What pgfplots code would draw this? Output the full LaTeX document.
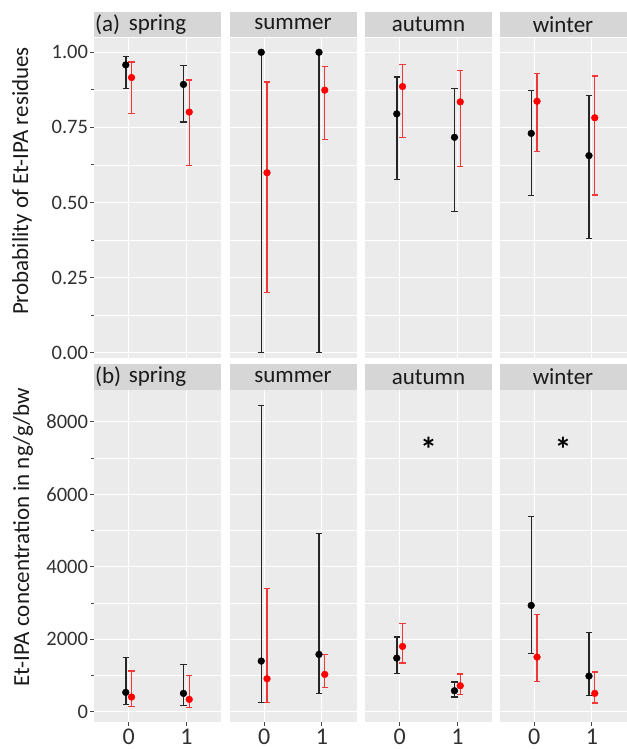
\documentclass[border=0pt]{standalone}
\usepackage{pgfplots}
\pgfplotsset{compat=1.18}
\usepackage{pgfplotstable}
\usepackage{fontspec}
\setmainfont{Carlito}

\definecolor{ggbg}{HTML}{EBEBEB}
\definecolor{ggstrip}{HTML}{D6D6D6}
\definecolor{ggtxt}{HTML}{1A1A1A}
\definecolor{redpt}{HTML}{FF0000}
\definecolor{redbar}{HTML}{F03838}

% probability of residues (a): x, black mean/low/high, red mean/low/high
\pgfplotstableread{
x by blo bhi ry rlo rhi
0 0.958 0.879 0.985 0.916 0.797 0.968
1 0.893 0.768 0.955 0.801 0.624 0.908
}\pspring
\pgfplotstableread{
x by blo bhi ry rlo rhi
0 1.000 0.000 1.000 0.599 0.200 0.901
1 1.000 0.000 1.000 0.874 0.710 0.953
}\psummer
\pgfplotstableread{
x by blo bhi ry rlo rhi
0 0.795 0.576 0.918 0.886 0.716 0.960
1 0.717 0.471 0.879 0.835 0.620 0.940
}\pautumn
\pgfplotstableread{
x by blo bhi ry rlo rhi
0 0.730 0.522 0.872 0.837 0.671 0.930
1 0.656 0.381 0.855 0.782 0.525 0.921
}\pwinter

% concentration (b)
\pgfplotstableread{
x by blo bhi ry rlo rhi
0 533 193 1499 405 147 1122
1 506 175 1297 340 120 1002
}\cspring
\pgfplotstableread{
x by blo bhi ry rlo rhi
0 1398 248 8441 910 248 3402
1 1582 506 4919 1030 671 1582
}\csummer
\pgfplotstableread{
x by blo bhi ry rlo rhi
0 1480 1057 2060 1802 1342 2427
1 579 405 818 717 478 1039
}\cautumn
\pgfplotstableread{
x by blo bhi ry rlo rhi
0 2933 1600 5388 1508 837 2694
1 984 441 2179 506 239 1094
}\cwinter

\pgfplotsset{
  panel/.style={
    scale only axis, width=127pt, anchor=south west,
    xmin=-0.6, xmax=1.6, xtick={0,1},
    axis background/.style={fill=ggbg},
    axis line style={draw=none},
    grid=both, minor y tick num=1,
    major grid style={white, line width=1.1pt},
    minor grid style={white, line width=0.5pt},
    tick align=outside, major tick length=4pt,
    tick style={ggtxt!80, line width=0.9pt},
    xtick pos=bottom, ytick pos=left,
    ticklabel style={font=\fontsize{20.5}{20.5}\selectfont, text=ggtxt!90},
    yticklabel style={xshift=1.5pt},
    clip=false,
  },
  toprow/.style={panel, height=320pt, ymin=-0.0176, ymax=1.0476,
    ytick={0,0.25,0.5,0.75,1}, yticklabels={0.00,0.25,0.50,0.75,1.00},
    xticklabels={}, x tick style={draw=none}},
  botrow/.style={panel, height=332pt, ymin=-284, ymax=8880,
    ytick={0,2000,4000,6000,8000}, yticklabels={0,2000,4000,6000,8000},
    xticklabels={0,1},
    xticklabel style={font=\fontsize{24}{24}\selectfont, anchor=base, yshift=-18pt}},
  othercol/.style={yticklabels={}, y tick style={draw=none}},
  blk/.style={only marks, mark=*, mark size=3.4pt, black,
    error bars/.cd, y dir=both, y explicit,
    error bar style={line width=1.5pt, black!85},
    error mark options={rotate=90, line width=1.2pt, mark size=3.2pt, black!85}},
  rd/.style={only marks, mark=*, mark size=3.4pt, redpt,
    error bars/.cd, y dir=both, y explicit,
    error bar style={line width=1.3pt, redbar},
    error mark options={rotate=90, line width=1.2pt, mark size=3.2pt, redbar}},
}

\newcommand\pairs[1]{%
  \addplot[blk] table[x expr=\thisrow{x}-0.05, y=by,
    y error plus expr=\thisrow{bhi}-\thisrow{by},
    y error minus expr=\thisrow{by}-\thisrow{blo}] {#1};
  \addplot[rd] table[x expr=\thisrow{x}+0.05, y=ry,
    y error plus expr=\thisrow{rhi}-\thisrow{ry},
    y error minus expr=\thisrow{ry}-\thisrow{rlo}] {#1};
}

\begin{document}
\begin{tikzpicture}
\useasboundingbox (0pt,0pt) rectangle (626pt,749pt);

% strips
\foreach \xl/\nm in {94/spring,229.5/summer,365/autumn,499.5/winter}{
  \fill[ggstrip] (\xl pt,712pt) rectangle ++(127pt,25pt);
  \node[font=\fontsize{23}{23}\selectfont, text=ggtxt] at (\xl pt+63.5pt,724.5pt) {\nm};
  \fill[ggstrip] (\xl pt,359pt) rectangle ++(127pt,26pt);
  \node[font=\fontsize{23}{23}\selectfont, text=ggtxt] at (\xl pt+63.5pt,372pt) {\nm};
}
\node[anchor=west, font=\fontsize{23}{23}\selectfont, text=ggtxt, inner sep=0pt] at (95pt,724.5pt) {(a)};
\node[anchor=west, font=\fontsize{23}{23}\selectfont, text=ggtxt, inner sep=0pt] at (95pt,372pt) {(b)};

% axis titles
\node[rotate=90, font=\fontsize{23}{23}\selectfont, text=ggtxt] at (22pt,568pt) {Probability of Et-IPA residues};
\node[rotate=90, font=\fontsize{23}{23}\selectfont, text=ggtxt] at (23pt,212pt) {Et-IPA concentration in ng/g/bw};

% row (a)
\begin{axis}[toprow, at={(94pt,391pt)}]
\pairs{\pspring}
\end{axis}
\begin{axis}[toprow, othercol, at={(229.5pt,391pt)}]
\pairs{\psummer}
\end{axis}
\begin{axis}[toprow, othercol, at={(365pt,391pt)}]
\pairs{\pautumn}
\end{axis}
\begin{axis}[toprow, othercol, at={(499.5pt,391pt)}]
\pairs{\pwinter}
\end{axis}

% row (b)
\begin{axis}[botrow, at={(94pt,27pt)}]
\pairs{\cspring}
\end{axis}
\begin{axis}[botrow, othercol, at={(229.5pt,27pt)}]
\pairs{\csummer}
\end{axis}
\begin{axis}[botrow, othercol, at={(365pt,27pt)}]
\pairs{\cautumn}
\node[font=\fontsize{34}{34}\selectfont\bfseries] at (axis cs:0.5,7250) {*};
\end{axis}
\begin{axis}[botrow, othercol, at={(499.5pt,27pt)}]
\pairs{\cwinter}
\node[font=\fontsize{34}{34}\selectfont\bfseries] at (axis cs:0.5,7250) {*};
\end{axis}
\end{tikzpicture}
\end{document}
